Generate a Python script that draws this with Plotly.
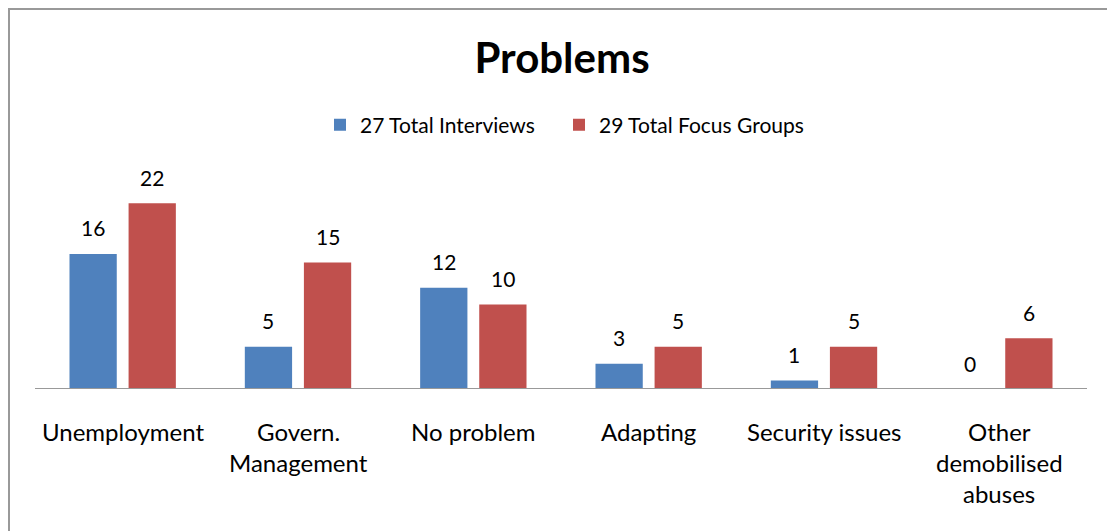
import plotly.graph_objects as go

categories = ["Unemployment", "Govern.\nManagement", "No problem", "Adapting",
              "Security issues", "Other\ndemobilised\nabuses"]
interviews = [16, 5, 12, 3, 1, 0]
focus_groups = [22, 15, 10, 5, 5, 6]
series_names = ["27 Total Interviews", "29 Total Focus Groups"]

BLUE = "#4F81BD"
RED = "#C0504D"
FONT = "Lato"

W, H = 1107, 523
L, R, T, B = 27, 28, 170, 142
pw, ph = W - L - R, H - T - B

xs = list(range(len(categories)))

fig = go.Figure()
fig.add_trace(go.Bar(x=xs, y=interviews, name=series_names[0], legend="legend",
                     marker=dict(color=BLUE, line=dict(width=0))))
fig.add_trace(go.Bar(x=xs, y=focus_groups, name=series_names[1], legend="legend2",
                     marker=dict(color=RED, line=dict(width=0))))

ann = []
slot = (1 - 0.326) / 2
for i in xs:
    for j, vals in enumerate([interviews, focus_groups]):
        off = (-0.5 + j) * slot
        ann.append(dict(x=i + off, y=vals[i], xref="x", yref="y", text=str(vals[i]),
                        showarrow=False, yanchor="middle", yshift=26,
                        font=dict(family=FONT, size=21, color="#000")))
    for k, line in enumerate(categories[i].split("\n")):
        ann.append(dict(x=i, y=0, xref="x", yref="y", text=line, showarrow=False,
                        yanchor="middle", yshift=-42 - 31 * k,
                        font=dict(family=FONT, size=24, color="#000")))

# outer chart border
bx0 = (1 - L) / pw
bx1 = (1105 - L) / pw
by1 = (H - B - 1) / ph
by0 = -(H + 20 - (H - B)) / ph

leg_common = dict(orientation="h", y=1 - 117 / H, yref="container", yanchor="middle",
                  xanchor="left", font=dict(family=FONT, size=21, color="#000"),
                  itemwidth=30, itemsizing="constant", bgcolor="rgba(0,0,0,0)")

fig.update_layout(
    width=W, height=H,
    margin=dict(l=L, r=R, t=T, b=B, pad=0),
    paper_bgcolor="white", plot_bgcolor="white",
    barmode="group", bargap=0.326, bargroupgap=0.2,
    title=dict(text="<b>Problems</b>", x=(562 - 8) / W, xanchor="center", y=1 - 50 / H, yanchor="middle",
               font=dict(family=FONT, size=42, color="#000")),
    legend=dict(x=(320 - 8 - L) / pw, **leg_common),
    legend2=dict(x=(559 - 8 - L) / pw, **leg_common),
    xaxis=dict(range=[-0.5, len(categories) - 0.5], showticklabels=False, ticks="",
               showgrid=False, zeroline=False, showline=False),
    yaxis=dict(range=[0, 25], visible=False, showgrid=False, zeroline=False),
    annotations=ann,
    shapes=[
        dict(type="line", xref="paper", yref="y", x0=0, x1=1, y0=0, y1=0,
             line=dict(color="#999999", width=2)),
        dict(type="rect", xref="paper", yref="paper", x0=bx0, x1=bx1, y0=by0, y1=by1,
             line=dict(color="#999999", width=2), layer="below"),
    ],
    showlegend=True,
)

fig.write_html("out.html")
